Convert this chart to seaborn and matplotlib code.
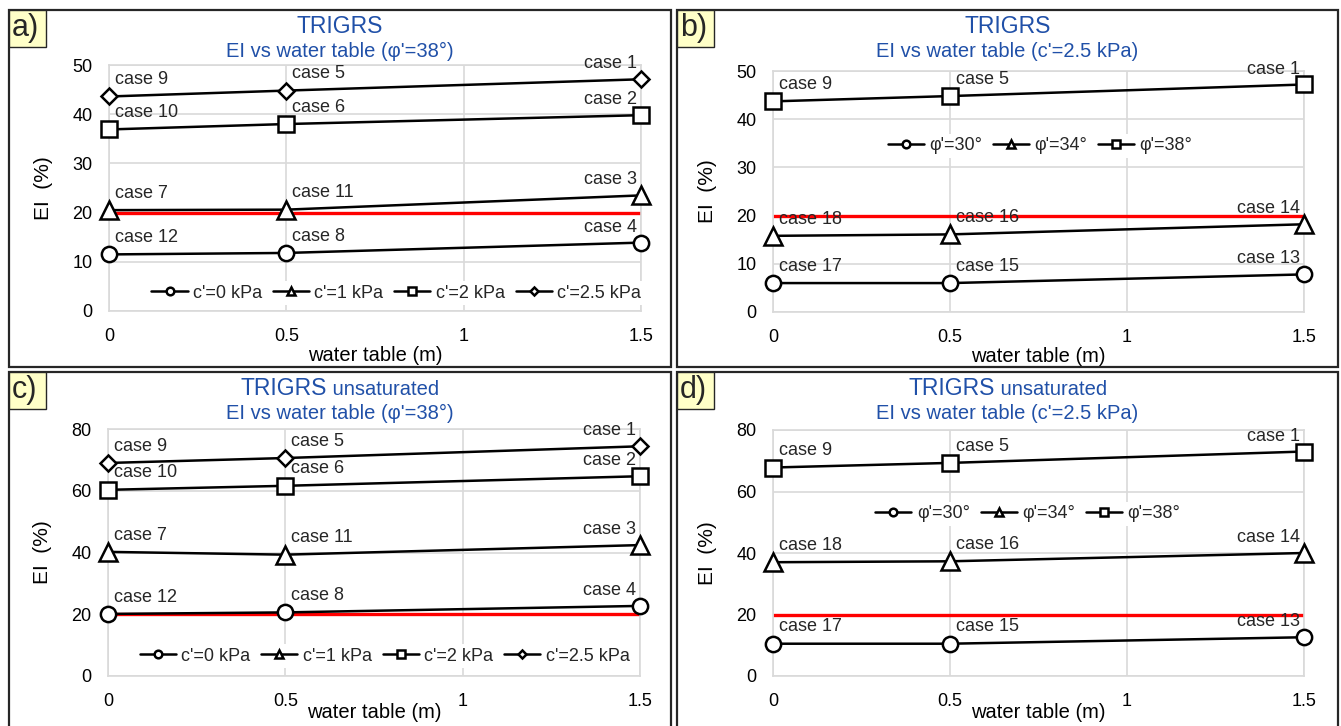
import matplotlib
matplotlib.use("Agg")
import matplotlib.pyplot as plt
import matplotlib.patches as mpatches
import seaborn as sns
import pandas as pd

# water table depths (m)
water_table = [0, 0.5, 1.5]

# a) TRIGRS, phi'=38, EI (%) per cohesion
a_series = ["c'=0 kPa", "c'=1 kPa", "c'=2 kPa", "c'=2.5 kPa"]
a_values = [
    [11.5, 11.8, 13.9],
    [20.5, 20.6, 23.5],
    [36.9, 38.0, 39.8],
    [43.6, 44.8, 47.1],
]
a_cases = [
    ["case 12", "case 8", "case 4"],
    ["case 7", "case 11", "case 3"],
    ["case 10", "case 6", "case 2"],
    ["case 9", "case 5", "case 1"],
]

# b) TRIGRS, c'=2.5 kPa, EI (%) per friction angle
b_series = ["φ'=30°", "φ'=34°", "φ'=38°"]
b_values = [
    [6.0, 6.0, 7.8],
    [15.8, 16.1, 18.2],
    [43.7, 44.8, 47.2],
]
b_cases = [
    ["case 17", "case 15", "case 13"],
    ["case 18", "case 16", "case 14"],
    ["case 9", "case 5", "case 1"],
]

# c) TRIGRS unsaturated, phi'=38
c_values = [
    [20.1, 20.6, 22.7],
    [40.2, 39.3, 42.4],
    [60.3, 61.6, 64.7],
    [69.0, 70.6, 74.4],
]

# d) TRIGRS unsaturated, c'=2.5 kPa
d_values = [
    [10.5, 10.5, 12.6],
    [37.0, 37.3, 40.0],
    [67.8, 69.3, 73.0],
]

threshold = 20

W, H = 1341, 726
sns.set_theme(style="white")
plt.rcParams["font.family"] = ["Liberation Sans", "DejaVu Sans"]

fig = plt.figure(figsize=(W / 100, H / 100), dpi=100)

title_blue = "#2050A8"
grid_gray = "#D9D9D9"
marker_sizes = {"o": 11, "^": 12.5, "s": 11, "D": 8.5}


def px_box(left, top, right, bottom):
    return [left / W, 1 - bottom / H, (right - left) / W, (bottom - top) / H]


def draw_panel(frame, axbox, letter, title1, title1b, title2, series, values,
               cases, markers, ymax, ystep, leg_anchor, xlabelpad):
    fl, ft, fr, fb = frame
    fig.add_artist(mpatches.Rectangle((fl / W, 1 - fb / H), (fr - fl) / W, (fb - ft) / H,
                                      transform=fig.transFigure, fill=False,
                                      edgecolor="#262626", linewidth=1.6))
    fig.add_artist(mpatches.Rectangle((fl / W, 1 - (ft + 37) / H), 37 / W, 37 / H,
                                      transform=fig.transFigure, facecolor="#FFFFC8",
                                      edgecolor="#262626", linewidth=1.0))
    fig.text((fl + 3) / W, 1 - (ft + 18) / H, letter, fontsize=22, va="center", ha="left")

    ax = fig.add_axes(px_box(*axbox))

    rows = []
    for name, vals in zip(series, values):
        for x, y in zip(water_table, vals):
            rows.append({"water table": x, "EI": y, "series": name})
    df = pd.DataFrame(rows)

    # threshold line
    ax.plot([min(water_table), max(water_table)], [threshold, threshold],
            color="#FF0000", linewidth=2.4, zorder=2, solid_capstyle="butt")

    sns.lineplot(data=df, x="water table", y="EI", hue="series", style="series",
                 hue_order=series, style_order=series,
                 palette=["black"] * len(series), markers=markers, dashes=False,
                 markersize=11, markerfacecolor="white", markeredgecolor="black",
                 markeredgewidth=1.8, linewidth=1.8, legend=False, ax=ax,
                 zorder=3, clip_on=False)

    lines = ax.get_lines()[1:]
    for ln, m in zip(lines, markers.values()):
        ln.set_markersize(marker_sizes[m])

    for vals, labs in zip(values, cases):
        for x, y, lab in zip(water_table, vals, labs):
            if x == max(water_table):
                ax.annotate(lab, (x, y), xytext=(-3, 5), textcoords="offset points",
                            ha="right", va="bottom", fontsize=13)
            else:
                ax.annotate(lab, (x, y), xytext=(4, 6), textcoords="offset points",
                            ha="left", va="bottom", fontsize=13)

    ax.set_xlim(0, 1.5)
    ax.set_ylim(0, ymax)
    ax.set_xticks([0, 0.5, 1, 1.5])
    ax.set_xticklabels(["0", "0.5", "1", "1.5"])
    ax.set_yticks(range(0, ymax + 1, ystep))
    ax.tick_params(axis="both", length=0, labelsize=13, colors="black")
    ax.tick_params(axis="x", pad=12)
    ax.tick_params(axis="y", pad=12)
    ax.grid(True, color=grid_gray, linewidth=1.2)
    ax.set_axisbelow(True)
    for s in ax.spines.values():
        s.set_color(grid_gray)
        s.set_linewidth(1.2)
    ax.set_xlabel("water table (m)", fontsize=14.5, labelpad=xlabelpad, color="black")
    ax.set_ylabel("EI  (%)", fontsize=15, labelpad=14, color="black")

    leg = ax.legend(lines, series, loc="center", bbox_to_anchor=leg_anchor,
                    ncol=len(series), markerscale=0.5, frameon=True, fontsize=13,
                    handlelength=2.0, handletextpad=0.3, columnspacing=0.6,
                    borderpad=0.2, fancybox=False)
    leg.get_frame().set_facecolor("white")
    leg.get_frame().set_edgecolor("none")
    leg.get_frame().set_alpha(1)
    leg.set_zorder(4)

    cx = (fl + fr) / 2 / W
    y1 = 1 - (ft + 23) / H
    if title1b:
        t1 = fig.text(cx, y1, title1, fontsize=16.5, color=title_blue,
                      ha="left", va="baseline")
        t2 = fig.text(0, y1, " " + title1b, fontsize=14.5, color=title_blue,
                      ha="left", va="baseline")
        fig.canvas.draw()
        r = fig.canvas.get_renderer()
        w1 = t1.get_window_extent(r).width
        w2 = t2.get_window_extent(r).width
        x0 = cx * W - (w1 + w2) / 2
        t1.set_x(x0 / W)
        t2.set_x((x0 + w1) / W)
    else:
        fig.text(cx, y1, title1, fontsize=16.5, color=title_blue,
                 ha="center", va="baseline")
    fig.text(cx, 1 - (ft + 47) / H, title2, fontsize=14.5, color=title_blue,
             ha="center", va="baseline")
    return ax


c_markers = dict(zip(a_series, ["o", "^", "s", "D"]))
p_markers = dict(zip(b_series, ["o", "^", "s"]))

draw_panel((9, 10, 671, 367), (109, 65, 641, 311), "a)", "TRIGRS", None,
           "EI vs water table (φ'=38°)", a_series, a_values, a_cases, c_markers,
           50, 10, (0.54, 0.073), 1)
draw_panel((677, 10, 1338, 367), (773, 71, 1304, 312), "b)", "TRIGRS", None,
           "EI vs water table (c'=2.5 kPa)", b_series, b_values, b_cases, p_markers,
           50, 10, (0.503, 0.69), 1)
draw_panel((9, 372, 671, 740), (108, 429, 640, 676), "c)", "TRIGRS", "unsaturated",
           "EI vs water table (φ'=38°)", a_series, c_values, a_cases, c_markers,
           80, 20, (0.52, 0.08), -5)
draw_panel((677, 372, 1338, 740), (773, 430, 1304, 676), "d)", "TRIGRS", "unsaturated",
           "EI vs water table (c'=2.5 kPa)", b_series, d_values, b_cases, p_markers,
           80, 20, (0.48, 0.66), -5)

fig.savefig("out.png", dpi=100)
